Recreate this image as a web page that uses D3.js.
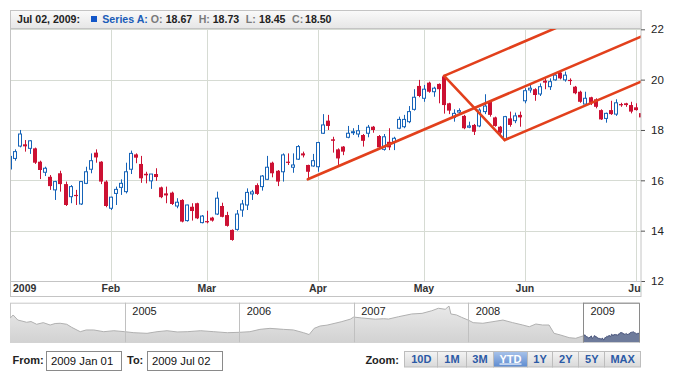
<!DOCTYPE html>
<html><head><meta charset="utf-8">
<script src="https://cdn.jsdelivr.net/npm/d3@7"></script>
<style>body{margin:0;background:#fff}svg{display:block;font-family:"Liberation Sans",Arial,sans-serif}</style>
</head><body><svg id="c" width="700" height="380"></svg>
<script>
// ---------- DATA ----------
const holidays = ["2009-01-19","2009-02-16","2009-04-10","2009-05-25"];
const open  = [16.45,16.87,17.36,17.43,17.27,17.27,16.74,16.32,16.14,15.62,16.28,15.85,15.35,15.42,15.06,15.88,16.44,17.10,16.74,15.95,
  14.89,15.48,15.72,15.55,16.44,17.03,16.65,16.26,15.98,16.25,15.72,15.48,15.51,14.98,15.22,14.40,14.95,15.09,14.32,
  14.38,14.52,14.66,14.98,14.62,14.03,14.05,14.82,15.02,15.46,15.81,15.75,16.04,16.70,16.38,16.34,16.74,16.52,16.84,17.07,16.61,16.57,
  16.54,17.87,18.37,17.63,17.23,17.34,17.71,17.89,17.84,17.80,17.87,18.13,17.76,17.23,17.53,17.53,18.07,18.13,18.33,18.82,
  19.75,19.26,19.88,19.52,19.83,20.13,19.06,18.50,18.71,18.56,18.11,18.20,18.16,18.73,19.12,18.50,18.13,17.63,18.46,18.37,
  18.60,19.16,19.59,19.62,19.43,19.96,19.72,19.99,20.28,19.99,19.99,19.72,19.52,19.03,19.30,19.22,18.79,18.46,18.79,18.63,19.03,19.06,18.99,18.90,
  18.67];
const high  = [17.05,17.23,18.00,17.60,17.60,17.30,16.78,16.54,16.21,15.98,16.38,15.95,15.81,15.62,15.97,16.54,17.07,17.23,16.76,16.00,
  15.35,15.75,16.04,16.70,17.18,17.07,16.97,16.34,16.25,16.48,15.75,15.75,15.55,15.29,15.25,15.03,15.09,15.11,14.62,
  14.79,14.55,15.55,15.11,14.75,14.05,14.82,15.22,15.68,15.62,15.88,16.21,16.97,16.74,16.41,17.07,17.07,17.07,17.40,17.14,16.62,17.05,
  17.53,18.63,18.60,17.73,17.27,17.36,18.16,18.07,18.20,17.84,18.20,18.16,17.80,17.84,18.07,17.73,18.53,18.60,18.95,19.62,
  19.99,19.79,19.92,19.72,19.85,20.15,19.08,18.82,18.86,18.60,18.33,18.24,18.86,19.42,19.19,18.53,18.16,18.56,18.73,18.69,
  18.73,19.66,19.83,19.66,19.85,20.05,20.05,20.25,20.36,20.32,20.05,19.75,19.56,19.52,19.32,19.26,18.82,18.69,19.16,19.22,19.08,19.08,19.12,19.06,
  18.73];
const low   = [16.40,16.78,17.31,17.14,17.05,16.65,16.05,16.17,15.62,15.22,15.55,14.98,15.09,15.02,15.02,15.85,16.28,16.70,15.85,14.93,
  14.82,15.02,15.42,15.48,16.25,16.68,15.90,15.88,15.66,15.98,15.29,15.09,15.02,14.89,14.33,14.36,14.40,14.46,14.29,
  14.29,14.36,14.62,14.53,14.16,13.60,14.00,14.55,14.82,15.22,15.42,15.59,16.01,16.12,15.77,15.95,16.61,16.30,16.81,16.91,16.04,16.54,
  16.34,17.84,18.00,17.10,16.61,17.00,17.67,17.80,17.71,17.34,17.71,17.89,17.27,17.18,17.20,17.20,18.03,18.07,18.27,18.77,
  19.30,19.12,19.48,19.32,19.06,18.65,18.63,18.33,18.60,18.03,18.07,17.80,18.11,18.63,18.53,18.13,17.80,17.60,18.13,18.27,
  18.13,19.06,19.48,19.16,19.35,19.62,19.59,19.96,20.01,19.92,19.79,19.42,19.08,18.99,18.99,18.86,18.40,18.29,18.60,18.56,18.92,18.92,18.66,18.77,
  18.45];
const close = [16.95,17.14,17.84,17.35,17.57,16.70,16.41,16.48,15.77,15.95,15.85,15.02,15.75,15.38,15.95,16.34,16.78,16.91,15.95,14.98,
  15.33,15.64,15.88,16.34,17.07,16.90,16.08,16.20,16.25,16.13,15.33,15.40,15.06,15.13,14.36,15.02,14.78,14.49,14.58,
  14.34,14.40,15.29,14.55,14.19,13.63,14.66,15.06,15.52,15.54,15.46,16.17,16.52,16.28,15.95,17.01,16.70,16.61,17.34,16.99,16.34,16.78,
  17.50,18.20,18.16,17.57,16.87,17.14,17.87,17.93,17.97,17.57,18.11,18.00,17.31,17.73,17.31,17.67,18.42,18.42,18.73,19.30,
  19.35,19.62,19.52,19.66,19.62,18.99,18.77,18.66,18.77,18.07,18.16,17.93,18.79,18.95,18.60,18.16,17.89,18.53,18.20,18.56,
  18.50,19.56,19.66,19.39,19.72,19.88,19.92,20.18,20.05,20.18,19.95,19.46,19.12,19.26,19.08,18.92,18.42,18.66,18.63,19.08,18.98,18.99,18.73,18.79,
  18.50];
const monthTicks  = ["2009-01-02","2009-02-02","2009-03-02","2009-04-01","2009-05-01","2009-06-01","2009-07-01"];
const monthLabels = ["2009","Feb","Mar","Apr","May","Jun","Jul"];
const yTicks = [12,14,16,18,20,22];
const pitchDates  = ["2009-03-30","2009-05-07","2009-05-26"];
const pitchValues = [16.04,20.15,17.60];
const ovHistDates = ["2004-01-01","2004-01-11","2004-01-26","2004-02-08","2004-02-23","2004-03-08","2004-03-26","2004-04-16","2004-05-08","2004-05-24","2004-06-09","2004-06-30","2004-07-16","2004-08-12","2004-08-31","2004-09-24","2004-10-26","2004-11-27",
  "2005-01-01","2005-01-30","2005-03-13","2005-04-14","2005-05-16","2005-06-17","2005-07-19","2005-08-31","2005-10-12","2005-11-24",
  "2006-01-01","2006-02-04","2006-03-08","2006-04-09","2006-05-22","2006-06-23","2006-07-25","2006-08-12","2006-08-28","2006-09-16","2006-10-08","2006-11-22","2006-12-21",
  "2007-01-01","2007-01-26","2007-03-11","2007-04-06","2007-04-22","2007-05-24","2007-07-05","2007-08-07","2007-09-07","2007-09-28","2007-10-20","2007-11-01","2007-11-07","2007-11-25","2007-12-11",
  "2008-01-01","2008-01-17","2008-02-17","2008-03-20","2008-04-21","2008-05-22","2008-06-23","2008-07-14","2008-08-04","2008-08-25","2008-09-15","2008-10-01","2008-10-22","2008-11-18","2008-12-09"];
const ovHistValues = [31.1,33.8,29.7,28.9,27.9,28.5,26.3,27.6,25.7,26.9,27.1,26.3,23.8,20.3,21.7,21.7,20.3,21.1,
  20.3,19.5,19.0,20.3,21.1,20.1,20.3,21.1,20.3,19.5,
  19.8,20.3,22.2,23.0,22.2,21.7,19.5,18.0,23.0,24.9,25.6,28.3,30.4,
  32.1,31.4,30.4,30.8,30.5,32.4,34.6,35.1,37.2,39.2,38.4,41.0,34.6,33.8,31.9,
  29.7,27.6,27.1,28.4,29.7,27.6,25.7,24.3,26.5,25.7,25.7,19.0,17.6,15.5,14.97];
const ovYears = ["2005","2006","2007","2008","2009"];
const zoomLabels = ["10D","1M","3M","YTD","1Y","2Y","5Y","MAX"];
const zoomSelected = "YTD";
const fromText = "2009 Jan 01", toText = "2009 Jul 02";
const seriesName = "Series A";

// trading calendar (weekdays minus holidays)
const dates = [];
for (let d = new Date(Date.UTC(2009,0,2)); d <= new Date(Date.UTC(2009,6,2)); d.setUTCDate(d.getUTCDate()+1)) {
  const w = d.getUTCDay(), s = d.toISOString().slice(0,10);
  if (w > 0 && w < 6 && !holidays.includes(s)) dates.push(s);
}
const candles = dates.map((d,i)=>({d, i, o:open[i], h:high[i], l:low[i], c:close[i]}));

// ---------- DRAW ----------
const svg = d3.select("#c");
const L = 10, R = 641, T = 28, B = 281;
const x = d3.scaleLinear().domain([0, dates.length-1]).range([L, R]);
const y = d3.scaleLinear().domain([12,22]).range([B, 29.3]);
const UP = "#1563b8", DOWN = "#cc1133", GRID = "#d6dbd3", BORDER = "#c4c4c4";

const defs = svg.append("defs");
defs.append("clipPath").attr("id","plotClip").append("rect").attr("x",L).attr("y",T).attr("width",R-L).attr("height",B-T);
const hg = defs.append("linearGradient").attr("id","hdrG").attr("x1",0).attr("y1",0).attr("x2",0).attr("y2",1);
hg.append("stop").attr("offset",0).attr("stop-color","#fafafa");
hg.append("stop").attr("offset",1).attr("stop-color","#e6e6e6");
const bg = defs.append("linearGradient").attr("id","btnG").attr("x1",0).attr("y1",0).attr("x2",0).attr("y2",1);
bg.append("stop").attr("offset",0).attr("stop-color","#f4f4f4");
bg.append("stop").attr("offset",1).attr("stop-color","#d9d9d9");
const sg = defs.append("linearGradient").attr("id","selG").attr("x1",0).attr("y1",0).attr("x2",0).attr("y2",1);
sg.append("stop").attr("offset",0).attr("stop-color","#a9c3ea");
sg.append("stop").attr("offset",1).attr("stop-color","#5d8bd0");
const og = defs.append("linearGradient").attr("id","ovG").attr("x1",0).attr("y1",0).attr("x2",0).attr("y2",1);
og.append("stop").attr("offset",0).attr("stop-color","#e9e9e9");
og.append("stop").attr("offset",1).attr("stop-color","#d2d2d2");

// grid
const g = svg.append("g");
g.selectAll(".hg").data(yTicks.filter(v=>v>12)).join("line")
  .attr("x1",L).attr("x2",R).attr("y1",d=>Math.round(y(d))+0.5).attr("y2",d=>Math.round(y(d))+0.5)
  .attr("stroke",GRID);
g.selectAll(".vg").data(monthTicks.slice(1)).join("line")
  .attr("x1",d=>Math.round(x(dates.indexOf(d)))+0.5).attr("x2",d=>Math.round(x(dates.indexOf(d)))+0.5)
  .attr("y1",T).attr("y2",B).attr("stroke",GRID);

// candles
const cg = svg.append("g").attr("clip-path","url(#plotClip)");
const cs = cg.selectAll("g.c").data(candles).join("g");
cs.append("line")
  .attr("x1",d=>Math.round(x(d.i))+0.5).attr("x2",d=>Math.round(x(d.i))+0.5)
  .attr("y1",d=>y(d.h)).attr("y2",d=>y(d.l))
  .attr("stroke",d=>d.c>=d.o?UP:DOWN).attr("stroke-width",1);
cs.filter(d=>d.c<d.o).append("rect")
  .attr("x",d=>Math.round(x(d.i))-2).attr("width",4)
  .attr("y",d=>y(d.o)).attr("height",d=>Math.max(1.2,y(d.c)-y(d.o)))
  .attr("fill",DOWN);
cs.filter(d=>d.c>=d.o).append("rect")
  .attr("x",d=>Math.round(x(d.i))-1.5).attr("width",3)
  .attr("y",d=>y(d.c)).attr("height",d=>Math.max(0.5,y(d.o)-y(d.c)))
  .attr("fill","#fff").attr("stroke",UP).attr("stroke-width",1);

// Andrews' pitchfork
const pi = pitchDates.map(d=>dates.indexOf(d));
const mi = (pi[1]+pi[2])/2, mv = (pitchValues[1]+pitchValues[2])/2;
const slope = (mv - pitchValues[0])/(mi - pi[0]);
const endI = dates.length-1;
const pf = [
  [[pi[0],pitchValues[0]],[endI,pitchValues[0]+slope*(endI-pi[0])]],
  [[pi[1],pitchValues[1]],[endI,pitchValues[1]+slope*(endI-pi[1])]],
  [[pi[2],pitchValues[2]],[endI,pitchValues[2]+slope*(endI-pi[2])]],
  [[pi[1],pitchValues[1]],[pi[2],pitchValues[2]]]
];
cg.selectAll("line.pf").data(pf).join("line")
  .attr("x1",d=>x(d[0][0])).attr("y1",d=>y(d[0][1])).attr("x2",d=>x(d[1][0])).attr("y2",d=>y(d[1][1]))
  .attr("stroke","#e2401c").attr("stroke-width",2.6).attr("stroke-linecap","round");

// frame
svg.append("rect").attr("x",L+0.5).attr("y",10.5).attr("width",R-L-0.5).attr("height",B-10).attr("fill","none").attr("stroke",BORDER);

// header
svg.append("rect").attr("x",L+0.5).attr("y",10.5).attr("width",R-L-0.5).attr("height",18).attr("fill","url(#hdrG)").attr("stroke",BORDER);
const last = candles[candles.length-1];
const fmtDate = d3.utcFormat("%b %d, %Y");
const hdr = svg.append("g").attr("font-weight","bold").attr("font-size","10.6px");
hdr.append("text").attr("x",17).attr("y",23.3).attr("fill","#222").text(fmtDate(new Date(last.d+"T00:00:00Z"))+":");
hdr.append("rect").attr("x",91).attr("y",16).attr("width",6).attr("height",6).attr("fill","#1256c8");
hdr.append("text").attr("x",102.3).attr("y",23.3).attr("fill","#1a5cb8").text(seriesName+":");
const hvals = [["O:",last.o,150.7,165.7],["H:",last.h,198.7,212.7],["L:",last.l,245.7,259],["C:",last.c,292,305]];
hvals.forEach(([lab,v,lx,vx])=>{
  hdr.append("text").attr("x",lx).attr("y",23.3).attr("fill","#7a7a7a").text(lab);
  hdr.append("text").attr("x",vx).attr("y",23.3).attr("fill","#222").text(v.toFixed(2));
});

// y axis right
const ya = svg.append("g").attr("transform",`translate(${R},0)`)
  .call(d3.axisRight(y).tickValues(yTicks).tickSize(4).tickPadding(6).tickFormat(d3.format("d")));
ya.select(".domain").remove();
ya.selectAll(".tick line").attr("stroke","#555");
ya.selectAll(".tick text").attr("font-size","11.5px").attr("fill","#222").attr("font-family","'Liberation Sans',Arial,sans-serif");

// x axis band
svg.append("defs").append("clipPath").attr("id","xbClip").append("rect").attr("x",L).attr("y",B).attr("width",R-L).attr("height",16);
svg.append("rect").attr("x",L+0.5).attr("y",B+0.5).attr("width",R-L-0.5).attr("height",15).attr("fill","#fff").attr("stroke",BORDER);
svg.append("g").attr("clip-path","url(#xbClip)").selectAll("text").data(monthTicks).join("text")
  .attr("x",(d,i)=>i===0?13:x(dates.indexOf(d)))
  .attr("text-anchor",(d,i)=>i===0?"start":"middle")
  .attr("y",292.3).attr("font-size","10.5px").attr("font-weight","bold").attr("fill","#333")
  .text((d,i)=>monthLabels[i]);

// ---------- scroller ----------
const ST = 302.7, SB = 342.3, SL = 10, SR = 640;
const ovX = d3.scaleTime().domain([new Date(Date.UTC(2004,0,1)), new Date(Date.UTC(2009,6,2))]).range([SL,SR]);
const ovY = d3.scaleLinear().domain([11.75,43.7]).range([SB,ST]);
const ov = ovHistDates.map((d,i)=>({t:new Date(d+"T00:00:00Z"), v:ovHistValues[i]}))
  .concat(candles.map(c=>({t:new Date(c.d+"T00:00:00Z"), v:c.c})));
const selX = ovX(new Date(Date.UTC(2009,0,1)));
defs.append("clipPath").attr("id","unsel").append("rect").attr("x",SL).attr("y",ST).attr("width",selX-SL).attr("height",SB-ST);
defs.append("clipPath").attr("id","sel").append("rect").attr("x",selX).attr("y",ST).attr("width",SR-selX).attr("height",SB-ST);
const area = d3.area().x(d=>ovX(d.t)).y0(SB).y1(d=>ovY(d.v));
const line = d3.line().x(d=>ovX(d.t)).y(d=>ovY(d.v));
svg.append("rect").attr("x",SL+0.5).attr("y",ST+0.5).attr("width",SR-SL-1).attr("height",SB-ST-0.5).attr("fill","#fff").attr("stroke","#c8c8c8");
svg.append("path").datum(ov).attr("d",area).attr("fill","url(#ovG)").attr("clip-path","url(#unsel)");
svg.append("path").datum(ov).attr("d",line).attr("fill","none").attr("stroke","#b0b0b0").attr("clip-path","url(#unsel)");
svg.append("path").datum(ov).attr("d",area).attr("fill","#6e7b9b").attr("clip-path","url(#sel)");
svg.append("path").datum(ov).attr("d",line).attr("fill","none").attr("stroke","#46527a").attr("clip-path","url(#sel)");
svg.selectAll("line.yr").data(ovYears).join("line")
  .attr("x1",d=>Math.round(ovX(new Date(d+"-01-01T00:00:00Z")))+0.5).attr("x2",d=>Math.round(ovX(new Date(d+"-01-01T00:00:00Z")))+0.5)
  .attr("y1",ST).attr("y2",SB).attr("stroke",d=>d==="2009"?"#8a8a8a":"#c0c0c0");
svg.append("path").attr("d",`M${Math.round(selX)+0.5},${SB}V${ST+0.5}H${SR-0.5}V${SB}`).attr("fill","none").attr("stroke","#8a8a8a");
svg.selectAll("text.yr").data(ovYears).join("text")
  .attr("x",d=>ovX(new Date(d+"-01-01T00:00:00Z"))+7.5).attr("y",314.5)
  .attr("font-size","11px").attr("fill","#222").text(d=>d);

// ---------- controls ----------
const ctl = svg.append("g").attr("font-size","11px");
ctl.append("text").attr("x",12.5).attr("y",364).attr("font-weight","bold").attr("fill","#222").text("From:");
ctl.append("rect").attr("x",46.5).attr("y",351.5).attr("width",75).attr("height",19).attr("fill","#fff").attr("stroke","#8a8a8a");
ctl.append("text").attr("x",51).attr("y",365).attr("fill","#111").attr("font-size","11.3px").text(fromText);
ctl.append("text").attr("x",127).attr("y",364).attr("font-weight","bold").attr("fill","#222").text("To:");
ctl.append("rect").attr("x",147.5).attr("y",351.5).attr("width",75).attr("height",19).attr("fill","#fff").attr("stroke","#8a8a8a");
ctl.append("text").attr("x",152).attr("y",365).attr("fill","#111").attr("font-size","11.3px").text(toText);
ctl.append("text").attr("x",399).attr("y",364).attr("text-anchor","end").attr("font-weight","bold").attr("fill","#222").text("Zoom:");
const bx = [404.3,437.3,465.7,493.3,526.7,552.3,578.3,604.3,640];
zoomLabels.forEach((lab,i)=>{
  const sel = lab===zoomSelected;
  ctl.append("rect").attr("x",Math.round(bx[i])+0.5).attr("y",351.5).attr("width",Math.round(bx[i+1])-Math.round(bx[i])).attr("height",15.5)
    .attr("fill",sel?"url(#selG)":"url(#btnG)").attr("stroke","#bdbdbd");
  ctl.append("text").attr("x",(bx[i]+bx[i+1])/2+0.5).attr("y",362.5).attr("text-anchor","middle")
    .attr("font-weight","bold").attr("fill",sel?"#fff":"#2b5aa6")
    .attr("text-decoration",sel?"underline":null).text(lab);
});
</script></body></html>
